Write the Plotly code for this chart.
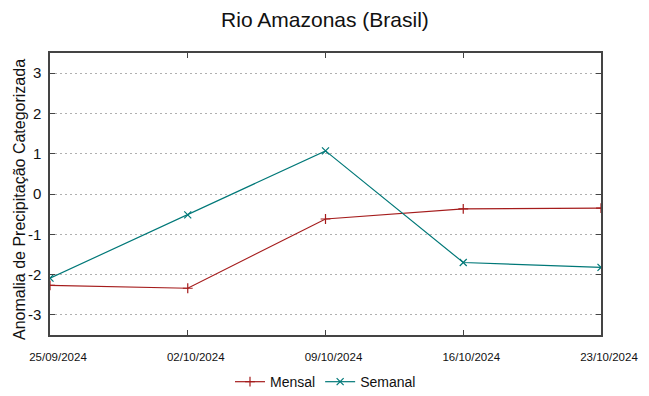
import plotly.graph_objects as go

dates = ["25/09/2024", "02/10/2024", "09/10/2024", "16/10/2024", "23/10/2024"]
mensal = [-2.27, -2.34, -0.62, -0.37, -0.35]
semanal = [-2.09, -0.52, 1.07, -1.70, -1.82]
y_ticks = [-3, -2, -1, 0, 1, 2, 3]
y_tick_text = [str(v) for v in y_ticks]
y_title = "Anomalia de Precipitação Categorizada"

x_idx = list(range(len(dates)))

fig = go.Figure()
fig.add_trace(go.Scatter(
    x=x_idx, y=mensal, name="Mensal", mode="lines+markers",
    line=dict(color="#a51c1c", width=1.2),
    marker=dict(symbol="cross-thin", size=7, line=dict(color="#a51c1c", width=1.2)),
))
fig.add_trace(go.Scatter(
    x=x_idx, y=semanal, name="Semanal", mode="lines+markers",
    line=dict(color="#007878", width=1.2),
    marker=dict(symbol="x-thin", size=7, line=dict(color="#007878", width=1.2)),
))

# page body has an 8px margin, so the figure is sized to fit the 649x396 window
fig.update_layout(
    width=641, height=388,
    margin=dict(l=42, r=48, t=45, b=61, autoexpand=False),
    paper_bgcolor="white", plot_bgcolor="white",
    font=dict(family="Liberation Sans, Arial, sans-serif", color="#222"),
    title=dict(text="Rio Amazonas (Brasil)", x=0.4945, xanchor="center",
               y=1 - 12 / 388, yanchor="middle", font=dict(size=21, color="#111")),
    showlegend=True,
    legend=dict(orientation="h", x=0.5, xanchor="center", y=-0.167, yanchor="middle",
                font=dict(size=14, color="#111"), bgcolor="rgba(0,0,0,0)"),
    annotations=[dict(
        text=y_title, textangle=-90, xref="paper", yref="paper",
        x=0, y=0.5, xanchor="center", yanchor="middle", xshift=-31, yshift=-6,
        showarrow=False, font=dict(size=16, color="#111"),
    )],
)
fig.update_xaxes(
    range=[0, len(dates) - 1], tickmode="array", tickvals=x_idx, ticktext=dates,
    showgrid=False, zeroline=False, showline=True, linecolor="#444", linewidth=1.5,
    mirror="ticks", ticks="inside", ticklen=5, tickcolor="#444",
    tickfont=dict(size=11.5, color="#111"), ticklabelstandoff=10, ticklabelshift=8,
)
fig.update_yaxes(
    range=[-3.5, 3.5], tickmode="array", tickvals=y_ticks, ticktext=y_tick_text,
    showgrid=True, gridcolor="#b0b0b0", griddash="2px,3px", gridwidth=1,
    zeroline=False, showline=True, linecolor="#444", linewidth=1.5,
    mirror="ticks", ticks="inside", ticklen=5, tickcolor="#444",
    tickfont=dict(size=15, color="#111"), ticklabelstandoff=4,
)

fig.write_html("out.html")
